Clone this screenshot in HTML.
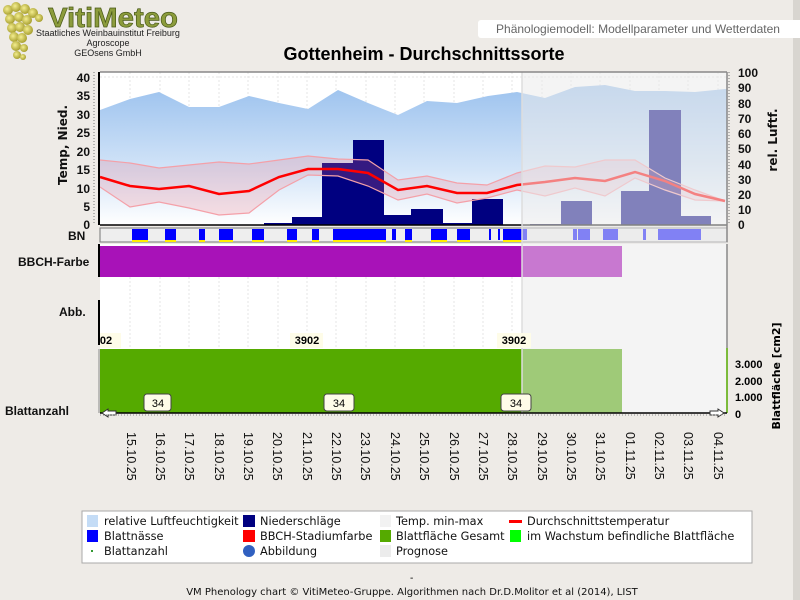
<!DOCTYPE html>
<html><head><meta charset="utf-8"><style>
html,body{margin:0;padding:0;background:#eeebe7;}
svg{display:block}
text{font-family:"Liberation Sans",sans-serif}
.ax{font-family:"DejaVu Sans",sans-serif;font-weight:bold;font-size:12px;fill:#111}
.lg{font-family:"DejaVu Sans",sans-serif;font-size:11.3px;fill:#111}
.dt{font-family:"DejaVu Sans",sans-serif;font-size:12.5px;fill:#111}
</style></head><body>
<svg width="800" height="600" viewBox="0 0 800 600" xmlns="http://www.w3.org/2000/svg">
<defs>
<linearGradient id="hum" x1="0" y1="0" x2="0" y2="1"><stop offset="0" stop-color="#9cc2ee"/><stop offset="0.6" stop-color="#d2e4f8"/><stop offset="1" stop-color="#ffffff"/></linearGradient>
<radialGradient id="gr" cx="0.4" cy="0.4" r="0.6"><stop offset="0" stop-color="#f4ee90"/><stop offset="1" stop-color="#a8a030"/></radialGradient>
</defs>
<rect x="0" y="0" width="800" height="600" fill="#eeebe7"/>
<rect x="793" y="0" width="7" height="600" fill="#d8d5d0"/>
<!-- logo grapes -->
<g fill="url(#gr)">
<circle cx="8" cy="10" r="5"/><circle cx="16" cy="7" r="5"/><circle cx="25" cy="9" r="5"/><circle cx="33" cy="13" r="5"/><circle cx="39" cy="18" r="4"/>
<circle cx="10" cy="19" r="5"/><circle cx="19" cy="17" r="5"/><circle cx="27" cy="20" r="5"/>
<circle cx="12" cy="28" r="5"/><circle cx="20" cy="27" r="5"/><circle cx="28" cy="30" r="5"/>
<circle cx="14" cy="37" r="5"/><circle cx="22" cy="38" r="5"/><circle cx="16" cy="46" r="5"/><circle cx="24" cy="48" r="4"/><circle cx="17" cy="55" r="4"/><circle cx="23" cy="57" r="3"/>
</g>
<text x="48" y="27" font-size="28" font-weight="bold" fill="#8c9c3c" stroke="#4a5a18" stroke-width="0.7" textLength="130" lengthAdjust="spacingAndGlyphs">VitiMeteo</text>
<text x="108" y="36" font-size="9" text-anchor="middle" fill="#222">Staatliches Weinbauinstitut Freiburg</text>
<text x="108" y="46" font-size="9" text-anchor="middle" fill="#222">Agroscope</text>
<text x="108" y="56" font-size="9" text-anchor="middle" fill="#222">GEOsens GmbH</text>
<rect x="478" y="20" width="334" height="18" rx="3" fill="#fff"/>
<text x="638" y="33" font-size="12" text-anchor="middle" fill="#666">Phänologiemodell: Modellparameter und Wetterdaten</text>
<text x="424" y="60" font-size="18" font-weight="bold" text-anchor="middle" fill="#000">Gottenheim - Durchschnittssorte</text>

<rect x="100" y="72" width="627" height="153" fill="#fff"/>
<g stroke="#e4e4e4" stroke-dasharray="2,2">
<line x1="130" y1="72" x2="130" y2="413"/><line x1="160" y1="72" x2="160" y2="413"/><line x1="189" y1="72" x2="189" y2="413"/><line x1="219" y1="72" x2="219" y2="413"/><line x1="248" y1="72" x2="248" y2="413"/><line x1="278" y1="72" x2="278" y2="413"/><line x1="307" y1="72" x2="307" y2="413"/><line x1="336" y1="72" x2="336" y2="413"/><line x1="366" y1="72" x2="366" y2="413"/><line x1="395" y1="72" x2="395" y2="413"/><line x1="424" y1="72" x2="424" y2="413"/><line x1="454" y1="72" x2="454" y2="413"/><line x1="483" y1="72" x2="483" y2="413"/><line x1="512" y1="72" x2="512" y2="413"/><line x1="542" y1="72" x2="542" y2="413"/><line x1="571" y1="72" x2="571" y2="413"/><line x1="600" y1="72" x2="600" y2="413"/><line x1="630" y1="72" x2="630" y2="413"/><line x1="659" y1="72" x2="659" y2="413"/><line x1="688" y1="72" x2="688" y2="413"/><line x1="718" y1="72" x2="718" y2="413"/>
<line x1="100" y1="77" x2="727" y2="77"/>
</g>
<polygon fill="url(#hum)" points="100,110 130,99 159,92 189,107 219,107 249,96 279,103 308,109 338,90 368,103 398,115 427,101 457,103 488,96 517,92 545,98 575,87 605,85 635,91 665,91 695,92 725,89 727,89 727,225 100,225"/>
<g fill="#000080">
<rect x="264" y="223" width="28" height="2"/><rect x="292" y="217" width="30" height="8"/><rect x="322" y="163" width="31" height="62"/><rect x="353" y="140" width="31" height="85"/><rect x="384" y="215" width="30" height="10"/><rect x="411" y="209" width="32" height="16"/><rect x="443" y="223" width="29" height="2"/><rect x="472" y="199" width="31" height="26"/>
<rect x="530" y="224" width="31" height="1"/><rect x="561" y="201" width="31" height="24"/><rect x="621" y="191" width="28" height="34"/><rect x="649" y="110" width="32" height="115"/><rect x="681" y="216" width="30" height="9"/>
</g>
<polygon fill="rgba(240,120,130,0.22)" points="100,160 130,163 159,168 189,165 219,162 249,164 279,160 308,156 338,159 368,160 398,180 427,176 457,183 487,185 517,173 545,166 575,167 605,160 635,160 665,178 695,190 725,201 725,201 695,200 665,190 635,178 605,196 575,188 545,196 517,190 487,198 457,203 427,194 398,200 368,186 338,176 308,175 279,190 249,213 219,215 189,208 159,202 130,207 100,187"/>
<polyline fill="none" stroke="#f4a0a8" stroke-width="1.2" points="100,160 130,163 159,168 189,165 219,162 249,164 279,160 308,156 338,159 368,160 398,180 427,176 457,183 487,185 517,173 545,166 575,167 605,160 635,160 665,178 695,190 725,201"/>
<polyline fill="none" stroke="#f4a0a8" stroke-width="1.2" points="100,187 130,207 159,202 189,208 219,215 249,213 279,190 308,175 338,176 368,186 398,200 427,194 457,203 487,198 517,190 545,196 575,188 605,196 635,178 665,190 695,200 725,201"/>
<polyline fill="none" stroke="#ff0000" stroke-width="2.5" points="100,177 130,186 159,189 189,186 219,194 249,191 279,177 308,169 338,169 368,173 398,190 427,186 457,193 487,193 517,185 545,182 575,178 605,181 635,172 665,181 695,194 725,201"/>
<line x1="100" y1="225" x2="727" y2="225" stroke="#000" stroke-width="1.5"/>

<rect x="100" y="228" width="627" height="14" fill="#eeeeee" stroke="#777" stroke-width="1"/>
<g fill="#0000ff">
<rect x="132" y="229" width="16" height="11"/><rect x="165" y="229" width="11" height="11"/><rect x="199" y="229" width="6" height="11"/><rect x="219" y="229" width="14" height="11"/><rect x="252" y="229" width="12" height="11"/><rect x="287" y="229" width="10" height="11"/><rect x="312" y="229" width="7" height="11"/><rect x="333" y="229" width="53" height="11"/><rect x="392" y="229" width="4" height="11"/><rect x="405" y="229" width="7" height="11"/><rect x="431" y="229" width="16" height="11"/><rect x="457" y="229" width="13" height="11"/><rect x="489" y="229" width="2" height="11"/><rect x="498" y="229" width="2" height="11"/><rect x="503" y="229" width="19" height="11"/>
<rect x="522" y="229" width="5" height="11"/><rect x="573" y="229" width="4" height="11"/><rect x="578" y="229" width="12" height="11"/><rect x="603" y="229" width="15" height="11"/><rect x="643" y="229" width="3" height="11"/><rect x="658" y="229" width="43" height="11"/>
</g>
<g fill="#ffee00">
<rect x="132" y="240" width="16" height="2"/><rect x="165" y="240" width="11" height="2"/><rect x="199" y="240" width="6" height="2"/><rect x="219" y="240" width="14" height="2"/><rect x="252" y="240" width="12" height="2"/><rect x="287" y="240" width="10" height="2"/><rect x="312" y="240" width="7" height="2"/><rect x="333" y="240" width="53" height="2"/><rect x="405" y="240" width="7" height="2"/><rect x="431" y="240" width="16" height="2"/><rect x="457" y="240" width="13" height="2"/><rect x="503" y="240" width="19" height="2"/>
</g>
<rect x="100" y="244" width="627" height="169" fill="#fff"/>
<g stroke="#e4e4e4" stroke-dasharray="2,2"><line x1="130" y1="277" x2="130" y2="348"/><line x1="160" y1="277" x2="160" y2="348"/><line x1="189" y1="277" x2="189" y2="348"/><line x1="219" y1="277" x2="219" y2="348"/><line x1="248" y1="277" x2="248" y2="348"/><line x1="278" y1="277" x2="278" y2="348"/><line x1="307" y1="277" x2="307" y2="348"/><line x1="336" y1="277" x2="336" y2="348"/><line x1="366" y1="277" x2="366" y2="348"/><line x1="395" y1="277" x2="395" y2="348"/><line x1="424" y1="277" x2="424" y2="348"/><line x1="454" y1="277" x2="454" y2="348"/><line x1="483" y1="277" x2="483" y2="348"/><line x1="512" y1="277" x2="512" y2="348"/></g>
<rect x="100" y="246" width="422" height="31" fill="#a812b8"/>
<rect x="100" y="349" width="422" height="64" fill="#55aa00"/>
<rect x="522" y="72" width="205" height="341" fill="rgba(235,235,235,0.55)"/>
<rect x="522" y="246" width="100" height="31" fill="#c878d0"/>
<rect x="522" y="349" width="100" height="64" fill="#9fca78"/>
<line x1="522" y1="72" x2="522" y2="413" stroke="#ddd" stroke-width="1.5"/>
<g font-size="11" font-weight="bold" text-anchor="middle" fill="#000">
<rect x="100" y="333" width="21" height="15" fill="#fefce8"/><text x="106" y="344">02</text>
<rect x="290" y="333" width="33" height="15" fill="#fefce8"/><text x="307" y="344">3902</text>
<rect x="497" y="333" width="34" height="15" fill="#fefce8"/><text x="514" y="344">3902</text>
</g>
<g font-size="11" text-anchor="middle" fill="#000">
<rect x="144" y="394" width="27" height="17" rx="3" fill="#fefce8" stroke="#444"/><text x="158" y="407">34</text>
<rect x="324" y="394" width="30" height="17" rx="3" fill="#fefce8" stroke="#444"/><text x="339" y="407">34</text>
<rect x="501" y="394" width="30" height="17" rx="3" fill="#fefce8" stroke="#444"/><text x="516" y="407">34</text>
</g>
<line x1="100" y1="72" x2="727" y2="72" stroke="#888" stroke-width="1.5"/>
<line x1="727" y1="72" x2="727" y2="242" stroke="#888" stroke-width="1.5"/>
<line x1="727" y1="244" x2="727" y2="348" stroke="#888" stroke-width="1.5"/>
<line x1="727" y1="348" x2="727" y2="413" stroke="#55aa00" stroke-width="1.5"/>
<line x1="99" y1="72" x2="99" y2="225" stroke="#000" stroke-width="2"/>
<line x1="99" y1="244" x2="99" y2="277" stroke="#000" stroke-width="2"/>
<line x1="99" y1="300" x2="99" y2="345" stroke="#000" stroke-width="2"/>
<line x1="99" y1="349" x2="99" y2="413" stroke="#888" stroke-width="1"/>
<line x1="100" y1="413" x2="727" y2="413" stroke="#000" stroke-width="1.5"/>
<path d="M102 413 l6 -4 v2 h8 v4 h-8 v2 z" fill="#fff" stroke="#333"/>
<path d="M724 413 l-6 -4 v2 h-8 v4 h8 v2 z" fill="#fff" stroke="#333"/>
<g stroke="#888" stroke-dasharray="1,2"><line x1="100" y1="415" x2="727" y2="415"/></g>
<g stroke="#777" stroke-dasharray="1,2"><line x1="94" y1="72" x2="94" y2="225"/><line x1="729" y1="72" x2="729" y2="225"/></g>
<g class="ax" text-anchor="end">
<text x="90" y="82">40</text><text x="90" y="100">35</text><text x="90" y="119">30</text><text x="90" y="137">25</text><text x="90" y="156">20</text><text x="90" y="174">15</text><text x="90" y="193">10</text><text x="90" y="211">5</text><text x="90" y="229">0</text>
</g>
<text class="ax" transform="translate(67,145) rotate(-90)" text-anchor="middle">Temp, Nied.</text>
<g class="ax" text-anchor="start">
<text x="738" y="77">100</text><text x="738" y="92">90</text><text x="738" y="108">80</text><text x="738" y="123">70</text><text x="738" y="138">60</text><text x="738" y="153">50</text><text x="738" y="169">40</text><text x="738" y="184">30</text><text x="738" y="199">20</text><text x="738" y="214">10</text><text x="738" y="229">0</text>
</g>
<text class="ax" transform="translate(777,140) rotate(-90)" text-anchor="middle">rel. Luftf.</text>
<g font-size="11" font-weight="bold" text-anchor="start" fill="#000" style="font-family:'DejaVu Sans',sans-serif">
<text x="735" y="368">3.000</text><text x="735" y="385">2.000</text><text x="735" y="401">1.000</text><text x="735" y="418">0</text>
</g>
<text transform="translate(780,376) rotate(-90)" text-anchor="middle" font-size="11" font-weight="bold" style="font-family:'DejaVu Sans',sans-serif">Blattfläche [cm2]</text>
<text x="68" y="240" font-size="12" font-weight="bold" fill="#111">BN</text>
<text x="18" y="266" font-size="12" font-weight="bold" fill="#111">BBCH-Farbe</text>
<text x="59" y="316" font-size="12" font-weight="bold" fill="#111">Abb.</text>
<text x="5" y="415" font-size="12" font-weight="bold" fill="#111">Blattanzahl</text>
<g class="dt">
<text transform="translate(127,432) rotate(90)">15.10.25</text><text transform="translate(156,432) rotate(90)">16.10.25</text><text transform="translate(185,432) rotate(90)">17.10.25</text><text transform="translate(215,432) rotate(90)">18.10.25</text><text transform="translate(244,432) rotate(90)">19.10.25</text><text transform="translate(273,432) rotate(90)">20.10.25</text><text transform="translate(303,432) rotate(90)">21.10.25</text><text transform="translate(332,432) rotate(90)">22.10.25</text><text transform="translate(361,432) rotate(90)">23.10.25</text><text transform="translate(391,432) rotate(90)">24.10.25</text><text transform="translate(420,432) rotate(90)">25.10.25</text><text transform="translate(450,432) rotate(90)">26.10.25</text><text transform="translate(479,432) rotate(90)">27.10.25</text><text transform="translate(508,432) rotate(90)">28.10.25</text><text transform="translate(538,432) rotate(90)">29.10.25</text><text transform="translate(567,432) rotate(90)">30.10.25</text><text transform="translate(596,432) rotate(90)">31.10.25</text><text transform="translate(626,432) rotate(90)">01.11.25</text><text transform="translate(655,432) rotate(90)">02.11.25</text><text transform="translate(684,432) rotate(90)">03.11.25</text><text transform="translate(714,432) rotate(90)">04.11.25</text>
</g>
<rect x="82" y="511" width="670" height="52" fill="#fff" stroke="#aaa"/>
<rect x="87" y="515" width="11" height="12" fill="#c4dcf6"/><text class="lg" x="104" y="525">relative Luftfeuchtigkeit</text>
<rect x="87" y="530" width="11" height="12" fill="#0000ff"/><text class="lg" x="104" y="540">Blattnässe</text>
<rect x="91" y="550" width="2" height="2" fill="#393"/><text class="lg" x="104" y="555">Blattanzahl</text>
<rect x="243" y="515" width="12" height="12" fill="#000080"/><text class="lg" x="260" y="525">Niederschläge</text>
<rect x="243" y="530" width="12" height="12" fill="#ff0000"/><text class="lg" x="260" y="540">BBCH-Stadiumfarbe</text>
<circle cx="249" cy="551" r="6" fill="#3060c0"/><text class="lg" x="260" y="555">Abbildung</text>
<rect x="380" y="515" width="11" height="12" fill="#f2f2f2"/><text class="lg" x="396" y="525">Temp. min-max</text>
<rect x="380" y="530" width="11" height="12" fill="#55aa00"/><text class="lg" x="396" y="540">Blattfläche Gesamt</text>
<rect x="380" y="545" width="11" height="12" fill="#ececec"/><text class="lg" x="396" y="555">Prognose</text>
<rect x="509" y="520" width="13" height="3" fill="#ff0000"/><text class="lg" x="527" y="525">Durchschnittstemperatur</text>
<rect x="510" y="530" width="11" height="12" fill="#00ff00"/><text class="lg" x="527" y="540">im Wachstum befindliche Blattfläche</text>
<text x="410" y="581" font-size="10" fill="#000">-</text>
<text x="412" y="595" font-size="10" text-anchor="middle" fill="#111" style="font-family:'DejaVu Sans',sans-serif">VM Phenology chart © VitiMeteo-Gruppe. Algorithmen nach Dr.D.Molitor et al (2014), LIST</text>
</svg>
</body></html>
